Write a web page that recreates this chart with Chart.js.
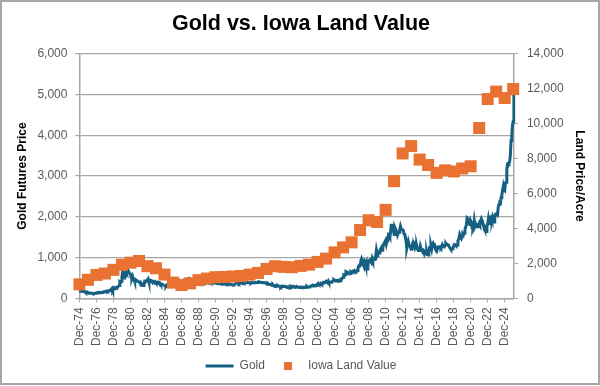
<!DOCTYPE html>
<html>
<head>
<meta charset="utf-8">
<script src="https://cdn.jsdelivr.net/npm/chart.js@4.4.1/dist/chart.umd.min.js"></script>
<style>
  html, body { margin: 0; padding: 0; background: #fff; }
  #wrap { position: relative; width: 600px; height: 386px; }
  #frame { position: absolute; left: 0; top: 0; width: 600px; height: 385px; box-sizing: border-box; border: 2px solid #A6A6A6; pointer-events: none; }
</style>
</head>
<body>
<div id="wrap">
  <canvas id="goldLand" width="600" height="386"></canvas>
  <div id="frame"></div>
</div>
<script>
var FONT = "'Liberation Sans', Arial, sans-serif";
var monthNames = ['Jan','Feb','Mar','Apr','May','Jun','Jul','Aug','Sep','Oct','Nov','Dec'];

// gold futures, month end, from Dec-74 to Jan-26
var goldPrices = [
  186,
  176, 180, 178, 168, 167, 166, 166, 161, 142, 143, 139, 140,
  128, 132, 129, 128, 126, 124, 113, 104, 116, 123, 130, 135,
  132, 142, 149, 148, 143, 141, 145, 145, 154, 162, 161, 165,
  174, 182, 182, 170, 183, 184, 201, 209, 218, 243, 195, 227,
  233, 252, 241, 247, 276, 279, 297, 316, 398, 383, 416, 526,
  660, 640, 500, 520, 540, 650, 620, 635, 670, 635, 620, 595,
  506, 489, 540, 482, 480, 423, 406, 425, 437, 426, 414, 400,
  387, 362, 321, 350, 325, 315, 341, 411, 397, 424, 440, 456,
  481, 410, 414, 437, 439, 416, 423, 415, 404, 382, 406, 382,
  371, 396, 397, 376, 384, 375, 342, 350, 344, 334, 330, 309,
  305, 300, 330, 321, 316, 318, 328, 337, 327, 326, 326, 328,
  350, 340, 345, 347, 344, 346, 358, 386, 424, 400, 390, 391,
  405, 406, 410, 454, 460, 449, 464, 455, 460, 466, 492, 486,
  456, 428, 456, 450, 456, 437, 436, 430, 400, 411, 421, 410,
  394, 386, 390, 377, 364, 372, 375, 359, 366, 376, 410, 402,
  420, 405, 370, 366, 365, 354, 371, 388, 409, 381, 385, 391,
  366, 363, 356, 357, 366, 368, 362, 347, 355, 358, 366, 354,
  354, 353, 342, 336, 338, 343, 357, 341, 350, 339, 334, 333,
  330, 329, 338, 355, 378, 386, 404, 372, 356, 370, 371, 391,
  380, 383, 390, 376, 386, 385, 384, 387, 396, 384, 384, 383,
  376, 375, 392, 390, 385, 386, 384, 384, 385, 384, 388, 388,
  405, 401, 397, 394, 391, 383, 386, 387, 380, 380, 372, 370,
  345, 364, 351, 341, 345, 335, 327, 325, 334, 312, 297, 290,
  304, 298, 302, 310, 295, 297, 289, 275, 295, 292, 294, 288,
  287, 288, 280, 287, 268, 262, 256, 255, 300, 300, 292, 289,
  284, 295, 280, 274, 273, 290, 276, 278, 274, 264, 271, 274,
  266, 267, 258, 264, 266, 271, 266, 274, 294, 280, 274, 279,
  283, 297, 302, 310, 326, 319, 305, 313, 324, 317, 318, 348,
  368, 348, 335, 337, 366, 347, 355, 376, 388, 384, 398, 417,
  401, 397, 427, 389, 395, 396, 392, 410, 418, 429, 453, 438,
  423, 435, 430, 436, 419, 437, 430, 434, 474, 471, 497, 518,
  569, 558, 584, 655, 644, 616, 635, 626, 599, 607, 650, 636,
  653, 667, 664, 681, 660, 651, 667, 675, 745, 790, 785, 838,
  924, 971, 917, 866, 887, 930, 913, 833, 880, 718, 816, 882,
  928, 942, 918, 884, 979, 927, 955, 955, 1009, 1040, 1182, 1097,
  1082, 1119, 1115, 1180, 1212, 1244, 1181, 1248, 1307, 1357, 1386, 1421,
  1334, 1410, 1439, 1556, 1536, 1500, 1628, 1826, 1620, 1715, 1746, 1566,
  1738, 1697, 1669, 1664, 1560, 1604, 1622, 1692, 1773, 1719, 1712, 1675,
  1664, 1579, 1597, 1476, 1393, 1234, 1313, 1396, 1327, 1323, 1250, 1202,
  1240, 1321, 1284, 1296, 1246, 1322, 1282, 1287, 1211, 1171, 1175, 1184,
  1279, 1213, 1183, 1182, 1190, 1172, 1094, 1132, 1114, 1142, 1065, 1060,
  1116, 1238, 1234, 1293, 1215, 1320, 1351, 1309, 1316, 1277, 1174, 1152,
  1211, 1254, 1249, 1268, 1268, 1242, 1268, 1317, 1280, 1271, 1275, 1309,
  1345, 1318, 1325, 1316, 1305, 1253, 1233, 1206, 1191, 1215, 1222, 1281,
  1320, 1316, 1298, 1285, 1306, 1413, 1437, 1529, 1472, 1514, 1473, 1520,
  1587, 1566, 1597, 1694, 1751, 1800, 1986, 1976, 1895, 1880, 1781, 1895,
  1850, 1728, 1715, 1768, 1904, 1771, 1817, 1816, 1757, 1784, 1776, 1829,
  1796, 1909, 1954, 1911, 1848, 1807, 1782, 1726, 1672, 1641, 1768, 1826,
  1945, 1837, 1986, 1999, 1982, 1929, 2009, 1966, 1870, 2000, 2058, 2072,
  2053, 2054, 2254, 2302, 2348, 2339, 2473, 2536, 2659, 2749, 2657, 2641,
  2835, 2848, 3150, 3305, 3315, 3307, 3348, 3516, 3873, 4000, 4254, 4340,
  5200
];

// Iowa farmland, $/acre, plotted at December of each year
var landYears = [1974, 1975, 1976, 1977, 1978, 1979, 1980, 1981, 1982, 1983,
  1984, 1985, 1986, 1987, 1988, 1989, 1990, 1991, 1992, 1993,
  1994, 1995, 1996, 1997, 1998, 1999, 2000, 2001, 2002, 2003,
  2004, 2005, 2006, 2007, 2008, 2009, 2010, 2011, 2012, 2013,
  2014, 2015, 2016, 2017, 2018, 2019, 2020, 2021, 2022, 2023,
  2024, 2025];
var landValues = [800, 1060, 1340, 1420, 1630, 1920, 2040, 2140, 1840, 1720,
  1360, 900, 760, 860, 1040, 1130, 1210, 1220, 1250, 1275,
  1356, 1455, 1682, 1837, 1802, 1781, 1857, 1926, 2083, 2275,
  2629, 2914, 3204, 3908, 4468, 4371, 5064, 6708, 8296, 8716,
  7943, 7633, 7183, 7326, 7264, 7432, 7559, 9751, 11411, 11835,
  11467, 11980];

var months = [];
for (var i = 0; i < goldPrices.length; i++) {
  var m = (11 + i) % 12;
  var yr = 1974 + Math.floor((11 + i) / 12);
  months.push(monthNames[m] + '-' + String(yr).slice(2));
}

var landPoints = landYears.map(function(y, i) {
  return { x: 'Dec-' + String(y).slice(2), y: landValues[i] };
});

var gridGray = '#A6A6A6';
var tickColor = '#595959';
var landColor = '#E97132';
var goldColor = '#156082';

// small square used as the legend marker for the land series
var legendSquare = document.createElement('canvas');
legendSquare.width = 8;
legendSquare.height = 8;
var sq = legendSquare.getContext('2d');
sq.fillStyle = landColor;
sq.fillRect(0, 0, 8, 8);

var ctx = document.getElementById('goldLand');
new Chart(ctx, {
  type: 'line',
  data: {
    labels: months,
    datasets: [
      {
        label: 'Iowa Land Value',
        data: landPoints,
        yAxisID: 'yLand',
        showLine: false,
        pointStyle: 'rect',
        pointRadius: 8.5,
        pointHoverRadius: 8.5,
        backgroundColor: landColor,
        borderColor: landColor,
        pointBackgroundColor: landColor,
        pointBorderColor: landColor,
        borderWidth: 0,
        pointBorderWidth: 0,
        clip: false
      },
      {
        label: 'Gold',
        data: goldPrices,
        yAxisID: 'yGold',
        borderColor: goldColor,
        backgroundColor: goldColor,
        borderWidth: 3,
        pointRadius: 0,
        pointStyle: 'line',
        tension: 0
      }
    ]
  },
  options: {
    responsive: false,
    animation: false,
    layout: { padding: { left: 15, right: 13, top: 0, bottom: 4 } },
    plugins: {
      title: {
        display: true,
        text: 'Gold vs. Iowa Land Value',
        color: '#000',
        font: { family: FONT, size: 21.5, weight: 'bold' },
        padding: { top: 11, bottom: 17 }
      },
      legend: {
        position: 'bottom',
        reverse: true,
        labels: {
          usePointStyle: true,
          pointStyleWidth: 28,
          boxHeight: 7,
          color: tickColor,
          font: { family: FONT, size: 12 },
          padding: 9,
          generateLabels: function(chart) {
            var items = Chart.defaults.plugins.legend.labels.generateLabels(chart);
            items.forEach(function(it) {
              if (it.datasetIndex === 0) it.pointStyle = legendSquare;
            });
            return items;
          }
        }
      },
      tooltip: { enabled: false }
    },
    scales: {
      x: {
        grid: { drawOnChartArea: false, drawTicks: true, tickLength: 4, color: gridGray },
        border: { color: gridGray, width: 1.5 },
        ticks: {
          autoSkip: false,
          maxRotation: 90,
          minRotation: 90,
          padding: 5,
          color: tickColor,
          font: { family: FONT, size: 12 },
          callback: function(v, i) {
            return i % 24 === 0 ? this.getLabelForValue(v) : null;
          }
        }
      },
      yGold: {
        position: 'left',
        min: 0,
        max: 6000,
        ticks: {
          stepSize: 1000,
          padding: 8,
          color: tickColor,
          font: { family: FONT, size: 12 },
          callback: function(v) { return v.toLocaleString('en-US'); }
        },
        grid: { color: gridGray, lineWidth: 1.25, tickLength: 4 },
        border: { color: gridGray, width: 1.5 },
        title: {
          display: true,
          text: 'Gold Futures Price',
          color: '#000',
          font: { family: FONT, size: 12, weight: 'bold' },
          padding: 0
        }
      },
      yLand: {
        position: 'right',
        min: 0,
        max: 14000,
        ticks: {
          stepSize: 2000,
          padding: 9,
          color: tickColor,
          font: { family: FONT, size: 12 },
          callback: function(v) { return v.toLocaleString('en-US'); }
        },
        grid: { drawOnChartArea: false, tickLength: 4, color: gridGray },
        border: { color: gridGray, width: 1.5 },
        title: {
          display: true,
          text: 'Land Price/Acre',
          color: '#000',
          font: { family: FONT, size: 12, weight: 'bold' },
          padding: 0
        }
      }
    }
  }
});
</script>
</body>
</html>
